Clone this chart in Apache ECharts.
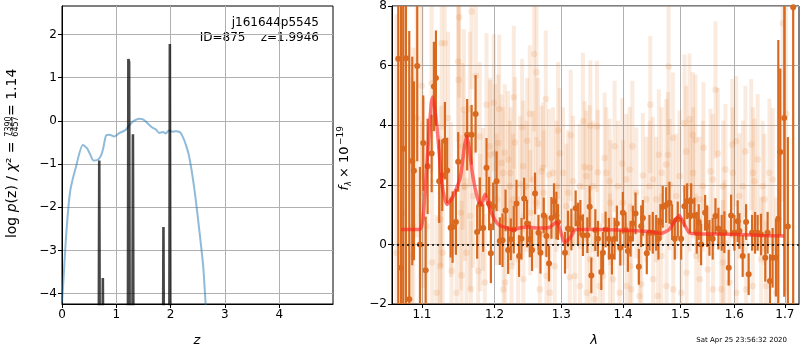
<!DOCTYPE html>
<html>
<head>
<meta charset="utf-8">
<script src="https://cdn.jsdelivr.net/npm/echarts@6/dist/echarts.min.js"></script>
<style>
  html, body { margin: 0; padding: 0; background: #fff; }
  #chart { width: 800px; height: 350px; }
</style>
</head>
<body>
<div id="chart"></div>
<script>
// ---- left panel: log p(z) ----
const pzZ   = [0.0, 0.02, 0.08, 0.15, 0.26, 0.385, 0.46, 0.52, 0.58, 0.66, 0.72, 0.76, 0.81, 0.87, 0.965, 1.06, 1.13, 1.18, 1.25, 1.31, 1.42, 1.50, 1.58, 1.67, 1.73, 1.79, 1.86, 1.91, 1.97, 2.03, 2.09, 2.17, 2.22, 2.28, 2.34, 2.43, 2.52, 2.60, 2.645, 2.675];
const pzLog = [-4.2, -3.83, -2.59, -1.63, -1.05, -0.56, -0.63, -0.78, -0.92, -0.90, -0.80, -0.63, -0.34, -0.32, -0.36, -0.28, -0.24, -0.20, -0.085, -0.01, 0.05, 0.03, -0.06, -0.16, -0.20, -0.28, -0.26, -0.29, -0.22, -0.25, -0.24, -0.26, -0.36, -0.55, -0.82, -1.51, -2.44, -3.37, -4.23, -4.6];

const chiZ   = [0.675, 0.686, 0.697, 0.742, 0.752, 0.762, 1.212, 1.222, 1.236, 1.248, 1.295, 1.306, 1.317, 1.858, 1.868, 1.878, 1.975, 1.986, 1.997];
const chiLog = [-6, -0.92, -6, -6, -3.64, -6, -6, 1.43, 1.36, -6, -6, -0.31, -6, -6, -2.46, -6, -6, 1.78, -6];

const leftXTicks = [0, 1, 2, 3, 4];
const leftYTicks = [-4, -3, -2, -1, 0, 1, 2];

// ---- right panel: spectrum ----
const modelLam  = [1.0731, 1.0969, 1.1013, 1.1079, 1.1124, 1.1145, 1.1199, 1.1271, 1.1334, 1.1394, 1.1462, 1.1521, 1.1577, 1.1609, 1.1637, 1.1693, 1.1763, 1.1810, 1.1866, 1.1918, 1.2000, 1.2072, 1.2169, 1.2257, 1.2365, 1.2489, 1.2614, 1.2766, 1.2827, 1.2930, 1.2982, 1.3050, 1.3138, 1.3233, 1.3554, 1.4106, 1.4448, 1.4651, 1.4798, 1.4917, 1.4977, 1.5037, 1.5158, 1.5280, 1.5901, 1.6550, 1.6985];
const modelFlux = [0.50, 0.50, 0.84, 3.19, 4.75, 4.95, 3.97, 1.96, 1.34, 1.51, 1.85, 2.29, 3.30, 3.64, 3.30, 2.29, 1.51, 1.34, 1.68, 1.29, 0.84, 0.64, 0.56, 0.48, 0.55, 0.58, 0.55, 0.55, 0.58, 0.75, 0.50, 0.06, 0.22, 0.50, 0.50, 0.47, 0.43, 0.37, 0.50, 0.84, 0.97, 0.78, 0.39, 0.36, 0.34, 0.30, 0.28];

const darkLam = [1.0692, 1.0727, 1.0756, 1.0791, 1.0834, 1.0873, 1.0895, 1.0938, 1.0974, 1.1017, 1.1049, 1.1075, 1.1129, 1.1159, 1.1186, 1.1230, 1.1271, 1.1307, 1.1338, 1.1385, 1.1412, 1.1457, 1.1489, 1.1613, 1.1675, 1.1731, 1.1753, 1.1791, 1.1838, 1.1886, 1.1923, 1.1948, 1.1981, 1.2030, 1.2077, 1.2116, 1.2160, 1.2198, 1.2237, 1.2281, 1.2321, 1.2359, 1.2395, 1.2434, 1.2478, 1.2519, 1.2553, 1.2598, 1.2650, 1.2680, 1.2730, 1.2771, 1.2811, 1.2848, 1.2888, 1.2925, 1.2950, 1.3059, 1.3106, 1.3159, 1.3227, 1.3264, 1.3302, 1.3343, 1.3414, 1.3451, 1.3478, 1.3543, 1.3585, 1.3640, 1.3667, 1.3711, 1.3765, 1.3815, 1.3859, 1.3897, 1.3954, 1.3998, 1.4043, 1.4082, 1.4127, 1.4166, 1.4212, 1.4268, 1.4309, 1.4337, 1.4405, 1.4451, 1.4509, 1.4568, 1.4608, 1.4643, 1.4683, 1.4743, 1.4802, 1.4850, 1.4896, 1.4950, 1.5011, 1.5070, 1.5119, 1.5170, 1.5192, 1.5252, 1.5294, 1.5331, 1.5375, 1.5449, 1.5486, 1.5529, 1.5590, 1.5641, 1.5697, 1.5759, 1.5810, 1.5892, 1.5938, 1.6001, 1.6064, 1.6097, 1.6161, 1.6227, 1.6277, 1.6344, 1.6402, 1.6453, 1.6520, 1.6605, 1.6651, 1.6699, 1.6751, 1.6819, 1.6866, 1.6906, 1.6987, 1.7060, 1.7170];
const darkFlux = [6.23, -0.78, 3.21, 6.25, -1.84, 2.80, 2.47, 5.99, 0.00, 3.40, -0.87, 2.62, 3.05, 5.30, 5.58, 2.12, 2.32, 3.48, 2.48, 0.56, 0.58, 0.75, 2.77, 3.68, 3.68, 4.38, 0.42, 1.35, 0.55, 2.57, 1.37, -0.30, 1.28, 2.12, 0.11, 0.14, 1.14, -0.19, 0.17, 0.50, 1.37, -0.39, 0.19, 1.54, 0.70, 0.17, -0.19, 1.71, 0.39, -0.28, 0.97, 0.28, -0.64, 0.89, 1.45, 0.97, 0.75, -0.28, 0.53, 0.50, 1.21, 0.70, 0.89, 0.31, 0.31, 1.26, -1.04, 0.48, 0.19, -0.93, -0.28, 0.50, 0.19, -0.41, 0.19, 0.70, -0.11, 1.06, 0.48, -0.22, 0.19, 0.70, 1.04, -0.75, 0.61, 0.89, -0.30, 0.39, 0.39, 0.39, 0.19, 0.75, 1.26, 1.32, 1.40, 0.75, 0.19, 0.84, 0.19, 1.28, 1.45, 0.98, 1.45, 0.97, 0.39, 0.75, 0.00, 1.06, 0.61, 0.22, 0.19, 0.95, 0.53, 0.39, 0.41, -0.78, 0.97, 0.39, 0.78, 0.45, -0.39, 0.75, -1.00, 0.39, 0.39, 0.39, 0.33, -0.45, 0.39, -1.23, -0.45, -0.45, 0.86, 3.10, 4.24, 0.60, 7.96];
const darkErr  = [9, 9, 9, 9, 9, 3.5, 3.0, 3.2, 2.6, 1.6, 1.8, 1.6, 1.3, 1.5, 1.6, 1.4, 1.2, 1.3, 1.1, 1.0, 1.2, 1.1, 1.0, 1.2, 1.0, 1.3, 0.9, 0.9, 0.8, 1.0, 0.9, 1.0, 0.8, 1.0, 0.8, 0.9, 0.7, 0.8, 0.7, 0.8, 0.8, 0.7, 0.7, 0.7, 0.8, 0.6, 0.7, 0.7, 0.6, 0.7, 0.6, 0.7, 0.6, 0.7, 0.6, 0.8, 0.6, 0.7, 0.6, 0.7, 0.6, 0.7, 0.6, 0.7, 0.6, 0.7, 0.6, 0.7, 0.6, 0.6, 0.7, 0.6, 0.7, 0.6, 0.7, 0.6, 0.6, 0.7, 0.6, 0.7, 0.6, 0.6, 0.7, 0.6, 0.7, 0.6, 0.7, 0.6, 0.7, 0.6, 0.7, 0.6, 0.7, 0.6, 0.7, 0.6, 0.7, 0.6, 0.7, 0.7, 0.6, 0.6, 0.6, 0.6, 0.7, 0.6, 0.7, 0.6, 0.7, 0.6, 0.7, 0.6, 0.7, 0.6, 0.7, 0.6, 0.7, 0.6, 0.7, 0.6, 0.7, 0.6, 0.7, 0.6, 0.7, 0.6, 0.7, 0.8, 0.7, 0.9, 1.0, 1.3, 6, 2.8, 6, 3.0, 10];

// faint (low-weight) points, marked ones
const faintLam  = [1.0670, 1.0756, 1.0865, 1.0886, 1.0930, 1.0996, 1.1000, 1.1017, 1.1129, 1.1135, 1.1240, 1.1245, 1.1263, 1.1277, 1.1307, 1.1352, 1.1398, 1.1489, 1.1495, 1.1502, 1.1535, 1.1549, 1.1567, 1.1651, 1.1655, 1.1665, 1.1675, 1.1735, 1.1767, 1.1791, 1.1797, 1.1886, 1.1933, 1.1940, 1.1990, 1.2029, 1.2052, 1.2067, 1.2125, 1.2130, 1.2150, 1.2222, 1.2281, 1.2296, 1.2345, 1.2404, 1.2419, 1.2479, 1.2519, 1.2525, 1.2584, 1.2620, 1.2644, 1.2670, 1.2720, 1.2727, 1.2761, 1.2873, 1.2899, 1.2951, 1.2977, 1.3106, 1.3133, 1.3149, 1.3212, 1.3343, 1.3370, 1.3451, 1.3458, 1.3462, 1.3532, 1.3569, 1.3585, 1.3667, 1.3695, 1.3777, 1.3784, 1.3860, 1.3943, 1.3988, 1.3998, 1.4111, 1.4118, 1.4140, 1.4157, 1.4310, 1.4338, 1.4396, 1.4465, 1.4510, 1.4597, 1.4615, 1.4657, 1.4745, 1.4774, 1.4786, 1.4863, 1.4870, 1.4923, 1.5072, 1.5103, 1.5110, 1.5162, 1.5223, 1.5272, 1.5284, 1.5345, 1.5419, 1.5499, 1.5549, 1.5643, 1.5686, 1.5750, 1.5780, 1.5812, 1.5830, 1.5958, 1.6034, 1.6040, 1.6098, 1.6214, 1.6325, 1.6357, 1.6390, 1.6455, 1.6522, 1.6587, 1.6687, 1.6822, 1.6956, 1.7024];
const faintFlux = [-0.28, 1.06, -0.39, 0.61, 4.24, 5.32, 0.95, 1.73, 5.41, -0.61, 0.84, -0.73, 6.75, -0.28, 6.75, 4.24, -0.89, 6.14, 5.52, 7.62, -1.04, 3.29, 4.52, 4.54, 0.95, -1.51, 7.81, 5.66, -0.89, 3.62, 0.73, 4.69, 3.29, 3.01, 4.75, 1.51, 3.40, 4.54, 2.40, -1.51, 3.07, 1.95, 4.94, 3.42, -0.50, 3.93, 2.62, 3.48, 4.38, 1.06, 6.39, 5.78, 3.38, -1.51, 2.57, 1.73, 4.88, 2.40, -0.73, 3.82, 3.05, 1.73, -1.10, 3.66, -1.06, 4.13, 2.60, 2.57, -0.50, 3.98, -1.84, 3.96, 2.42, -1.06, 2.90, 2.12, -0.39, 3.29, -1.62, 2.71, 1.40, 2.51, -0.73, -1.51, 3.29, -1.34, 2.31, 1.51, 4.69, 2.18, -1.73, 3.01, -0.39, 2.68, 3.01, 5.97, 3.57, -1.51, 1.62, 4.07, 3.12, -0.95, 4.21, 3.68, 3.50, -0.39, 1.51, 3.24, -0.84, 2.45, 5.19, 3.05, -1.51, -0.61, 0.06, 2.51, 3.35, 3.46, -1.62, 1.62, 3.12, 3.35, -1.40, 2.12, 2.85, -0.50, 1.51, 2.40, -1.62, 7.42, 4.38];
const faintErr  = [8, 8, 6, 6, 4, 3.2, 3.2, 3.2, 3.0, 2.8, 2.8, 2.7, 2.9, 2.6, 2.8, 2.9, 2.5, 2.7, 2.8, 2.7, 2.5, 2.8, 2.7, 2.6, 2.5, 2.3, 2.6, 2.5, 2.3, 2.5, 2.3, 2.4, 2.3, 2.5, 2.3, 2.2, 2.3, 2.5, 2.2, 2.1, 2.3, 2.2, 2.4, 2.2, 2.1, 2.3, 2.2, 2.1, 2.3, 2.1, 2.6, 2.3, 2.2, 2.1, 2.2, 2.1, 2.3, 2.2, 2.1, 2.3, 2.2, 2.1, 2.1, 2.2, 2.1, 2.3, 2.2, 2.1, 2.1, 2.2, 2.1, 2.2, 2.1, 2.1, 2.2, 2.1, 2.1, 2.2, 2.1, 2.2, 2.1, 2.1, 2.1, 2.1, 2.2, 2.1, 2.1, 2.1, 2.3, 2.1, 2.1, 2.2, 2.1, 2.2, 2.1, 2.3, 2.2, 2.1, 2.1, 2.3, 2.2, 2.1, 2.2, 2.1, 2.2, 2.1, 2.1, 2.2, 2.1, 2.1, 2.3, 2.2, 2.1, 2.1, 2.1, 2.2, 2.2, 2.2, 2.1, 2.1, 2.2, 2.2, 2.1, 2.1, 2.2, 2.1, 2.2, 2.5, 3.2, 6, 6];

// faint points sitting in the dense band around the model
const faintLamB  = [1.1062, 1.1195, 1.1256, 1.1390, 1.1468, 1.1523, 1.1581, 1.1604, 1.1697, 1.1837, 1.1861, 1.2005, 1.2102, 1.2155, 1.2198, 1.2232, 1.2247, 1.2271, 1.2370, 1.2423, 1.2469, 1.2569, 1.2615, 1.2696, 1.2771, 1.2811, 1.2822, 1.2925, 1.3028, 1.3081, 1.3185, 1.3291, 1.3296, 1.3398, 1.3403, 1.3505, 1.3613, 1.3722, 1.3790, 1.3832, 1.3915, 1.4055, 1.4060, 1.4225, 1.4281, 1.4453, 1.4515, 1.4568, 1.4662, 1.4750, 1.4803, 1.4982, 1.5011, 1.5167, 1.5228, 1.5350, 1.5406, 1.5591, 1.5596, 1.5785, 1.5906, 1.5970, 1.6162, 1.6227, 1.6362, 1.6553, 1.6620, 1.6754];
const faintFluxB = [0.61, -1.62, 1.95, 1.51, -1.62, 1.06, 1.95, -0.28, 1.62, 1.51, -1.28, 3.07, 2.73, -1.28, 2.85, 2.40, -0.73, 1.51, 2.01, -1.17, 1.95, 2.18, 1.40, 2.45, -1.06, 2.34, -1.62, 1.95, 2.40, 1.28, 2.12, 1.95, -1.40, 2.29, -1.62, 1.95, -1.40, 2.40, 1.40, -1.17, 1.95, 2.18, -1.40, 1.73, -1.73, 1.95, -1.17, 1.51, 2.40, -1.40, 2.01, 2.29, -1.62, 1.95, 2.40, -1.17, 1.95, 2.18, -1.51, 1.95, -1.28, 2.40, 1.95, -1.51, 2.40, 1.95, -1.40, 2.18];
const faintErrB  = [2.8, 2.6, 2.7, 2.6, 2.5, 2.6, 2.5, 2.5, 2.4, 2.4, 2.3, 2.3, 2.3, 2.2, 2.3, 2.2, 2.2, 2.2, 2.3, 2.2, 2.2, 2.3, 2.2, 2.2, 2.1, 2.2, 2.1, 2.2, 2.2, 2.1, 2.2, 2.1, 2.1, 2.2, 2.1, 2.2, 2.1, 2.2, 2.1, 2.1, 2.2, 2.2, 2.1, 2.2, 2.1, 2.2, 2.1, 2.1, 2.2, 2.1, 2.2, 2.2, 2.1, 2.2, 2.2, 2.1, 2.2, 2.2, 2.1, 2.2, 2.1, 2.2, 2.2, 2.1, 2.2, 2.2, 2.2, 2.4];

const rightXTicks = [1.1, 1.2, 1.3, 1.4, 1.5, 1.6, 1.7];
const rightYTicks = [-2, 0, 2, 4, 6, 8];

const FONT = 'DejaVu Sans';
const ORANGE = '#d8691f';
const FAINT = 'rgba(230,120,40,0.15)';

function errItem(color, lw, r) {
  return function (params, api) {
    const x = api.value(0), y = api.value(1), e = api.value(2);
    const lo = Math.max(y - e, -2), hi = Math.min(y + e, 8);
    const p0 = api.coord([x, lo]), p1 = api.coord([x, hi]), pc = api.coord([x, y]);
    return {
      type: 'group',
      children: [
        { type: 'line', shape: { x1: p0[0], y1: p0[1], x2: p1[0], y2: p1[1] }, style: { stroke: color, lineWidth: lw } },
        { type: 'circle', shape: { cx: pc[0], cy: pc[1], r: r }, style: { fill: color } }
      ]
    };
  };
}

function axisStyle(ticks, fmt) {
  return {
    axisLine: { show: true, onZero: false, lineStyle: { color: '#000', width: 1 } },
    axisTick: { show: true, length: 4, customValues: ticks, lineStyle: { color: '#000' } },
    axisLabel: { color: '#000', fontSize: 12, fontFamily: FONT, margin: 5, customValues: ticks, formatter: fmt },
    splitLine: { show: true, lineStyle: { color: '#b0b0b0', width: 1 } }
  };
}

const minus = v => String(v).replace('-', '\u2212');
const lnTicks = rightXTicks.map(Math.log);
const faintData = faintLam.map((l, i) => [Math.log(l), faintFlux[i], faintErr[i]])
  .concat(faintLamB.map((l, i) => [Math.log(l), faintFluxB[i], faintErrB[i]]));

let myChart = echarts.init(document.getElementById('chart'), null, { renderer: 'canvas' });

option = {
  animation: false,
  backgroundColor: '#fff',
  grid: [
    { left: 62, right: 467, top: 6, bottom: 46, show: true, borderColor: '#000', borderWidth: 1 },
    { left: 392, right: 1, top: 6, bottom: 46, show: true, borderColor: '#000', borderWidth: 1 }
  ],
  xAxis: [
    Object.assign({ gridIndex: 0, type: 'value', min: 0, max: 4.99 }, axisStyle(leftXTicks, minus)),
    Object.assign({ gridIndex: 1, type: 'value', min: Math.log(1.0612), max: Math.log(1.729) },
      axisStyle(lnTicks, v => Math.exp(v).toFixed(1)))
  ],
  yAxis: [
    Object.assign({ gridIndex: 0, type: 'value', min: -4.24, max: 2.66 }, axisStyle(leftYTicks, minus)),
    Object.assign({ gridIndex: 1, type: 'value', min: -2, max: 8, interval: 2 }, axisStyle(rightYTicks, minus))
  ],
  series: [
    {
      type: 'line', xAxisIndex: 0, yAxisIndex: 0, showSymbol: false, clip: true, smooth: 0.25,
      data: pzZ.map((z, i) => [z, pzLog[i]]),
      lineStyle: { color: 'rgba(31,119,180,0.5)', width: 2 }, z: 3
    },
    {
      type: 'line', xAxisIndex: 0, yAxisIndex: 0, showSymbol: false, clip: true,
      data: chiZ.map((z, i) => [z, chiLog[i]]),
      lineStyle: { color: 'rgba(0,0,0,0.72)', width: 2.6 }, z: 4
    },
    {
      type: 'custom', xAxisIndex: 1, yAxisIndex: 1,
      renderItem: errItem(FAINT, 4, 3.3),
      data: faintData, z: 2
    },
    {
      type: 'custom', xAxisIndex: 1, yAxisIndex: 1,
      renderItem: errItem(ORANGE, 2.2, 3),
      data: darkLam.map((l, i) => [Math.log(l), darkFlux[i], darkErr[i]]), z: 3
    },
    {
      type: 'line', xAxisIndex: 1, yAxisIndex: 1, showSymbol: false, smooth: 0.2,
      data: modelLam.map((l, i) => [Math.log(l), modelFlux[i]]),
      lineStyle: { color: 'rgba(255,30,30,0.6)', width: 3.5 }, z: 5,
      markLine: {
        silent: true, symbol: 'none', label: { show: false },
        lineStyle: { color: '#000', type: [2, 3], width: 1.6 },
        data: [{ yAxis: 0 }]
      }
    }
  ],
  graphic: [
    { type: 'text', right: 481, top: 17, style: { text: 'j161644p5545', font: '12px "DejaVu Sans"', fill: '#000' } },
    { type: 'text', right: 481, top: 32, style: { text: 'ID=875    z=1.9946', font: '12px "DejaVu Sans"', fill: '#000' } },
    { type: 'text', x: 197, y: 341, style: { text: 'z', font: 'italic 13px "DejaVu Sans"', fill: '#000', align: 'center', verticalAlign: 'middle' } },
    { type: 'text', x: 594, y: 341, style: { text: 'λ', font: 'italic 13px "DejaVu Sans"', fill: '#000', align: 'center', verticalAlign: 'middle' } },
    { type: 'text', x: 787, y: 340, style: { text: 'Sat Apr 25 23:56:32 2020', font: '7px "DejaVu Sans"', fill: '#000', align: 'right', verticalAlign: 'middle' } },
    {
      type: 'group', x: 12.5, y: 156, rotation: Math.PI / 2,
      children: [
        { type: 'text', x: 19, y: 0, style: {
            text: '{n|log }{i|p}{n|(z) / }{i|χ}{n|² = }', align: 'right', verticalAlign: 'middle',
            rich: { n: { font: '14px "DejaVu Sans"', fill: '#000' }, i: { font: 'italic 14px "DejaVu Sans"', fill: '#000' } } } },
        { type: 'text', x: 29.5, y: -3.8, style: { text: '7390', font: '8px "DejaVu Sans"', fill: '#000', align: 'center', verticalAlign: 'middle' } },
        { type: 'line', shape: { x1: 22, y1: -0.3, x2: 37, y2: -0.3 }, style: { stroke: '#000', lineWidth: 0.6 } },
        { type: 'text', x: 29.5, y: 3.4, style: { text: '6457', font: '8px "DejaVu Sans"', fill: '#000', align: 'center', verticalAlign: 'middle' } },
        { type: 'text', x: 40, y: 0, style: { text: '= 1.14', font: '14px "DejaVu Sans"', fill: '#000', align: 'left', verticalAlign: 'middle' } }
      ]
    },
    {
      type: 'group', x: 345, y: 157, rotation: Math.PI / 2,
      children: [
        { type: 'text', x: -33.5, y: 0, style: { text: 'f', font: 'italic 13px "DejaVu Sans"', fill: '#000', align: 'left', verticalAlign: 'middle' } },
        { type: 'text', x: -29, y: 3.5, style: { text: 'λ', font: 'italic 8px "DejaVu Sans"', fill: '#000', align: 'left', verticalAlign: 'middle' } },
        { type: 'text', x: -21, y: 0, style: { text: '× 10', font: '13px "DejaVu Sans"', fill: '#000', align: 'left', verticalAlign: 'middle' } },
        { type: 'text', x: 12, y: -4.5, style: { text: '\u221219', font: '9px "DejaVu Sans"', fill: '#000', align: 'left', verticalAlign: 'middle' } }
      ]
    }
  ]
};

myChart.setOption(option);
</script>
</body>
</html>
